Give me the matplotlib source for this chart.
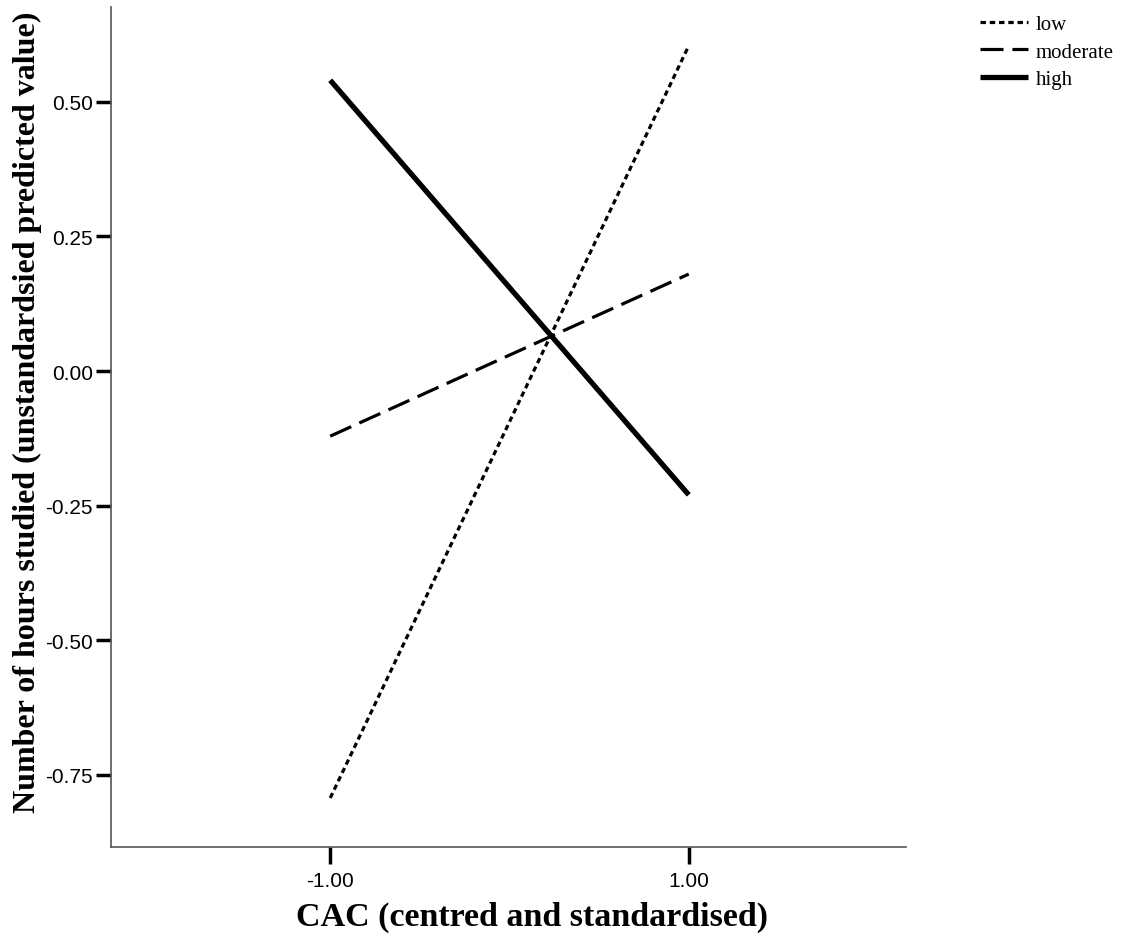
import matplotlib
matplotlib.use("Agg")
import matplotlib.pyplot as plt
from matplotlib.lines import Line2D

x_vals = [-1.0, 1.0]
low = [-0.793, 0.604]
moderate = [-0.121, 0.180]
high = [0.540, -0.230]
series_names = ["low", "moderate", "high"]
x_ticks = [-1.0, 1.0]
x_ticklabels = ["-1.00", "1.00"]
y_ticks = [-0.75, -0.50, -0.25, 0.00, 0.25, 0.50]
y_ticklabels = ["-0.75", "-0.50", "-0.25", "0.00", "0.25", "0.50"]

low_style = (0, (1.7, 1.2))
mod_style = (0, (7.2, 2.8))

fig = plt.figure(figsize=(11.24, 9.37), dpi=100)
ax = fig.add_axes([111/1124, 89/937, 795/1124, 840/937])

ax.plot(x_vals, low, color="black", lw=2.3, linestyle=low_style, label=series_names[0])
ax.plot(x_vals, moderate, color="black", lw=2.3, linestyle=mod_style, label=series_names[1])
ax.plot(x_vals, high, color="black", lw=3.8, linestyle="-", label=series_names[2], solid_capstyle="butt")

ax.set_xlim(-2.223, 2.212)
ax.set_ylim(-0.884, 0.676)
ax.set_xticks(x_ticks)
ax.set_xticklabels(x_ticklabels, fontfamily="Liberation Sans", fontsize=15)
ax.set_yticks(y_ticks)
ax.set_yticklabels(y_ticklabels, fontfamily="Liberation Sans", fontsize=15)
ax.tick_params(axis="x", length=12, width=2.5, color="black", pad=5)
ax.tick_params(axis="y", length=11, width=2.5, color="black", pad=2)

for s in ["top", "right"]:
    ax.spines[s].set_visible(False)
for s in ["left", "bottom"]:
    ax.spines[s].set_color("#555555")
    ax.spines[s].set_linewidth(1.2)

ax.set_xlabel("CAC (centred and standardised)", fontfamily="Liberation Serif",
              fontweight="bold", fontsize=24.5, labelpad=8)
ax.set_ylabel("Number of hours studied (unstandardsied predicted value)",
              fontfamily="Liberation Serif", fontweight="bold", fontsize=23, labelpad=2)
ax.xaxis.label.set_x(0.53)
ax.yaxis.label.set_y(0.519)

handles = [
    Line2D([], [], color="black", lw=2.3, linestyle=low_style),
    Line2D([], [], color="black", lw=2.3, linestyle=mod_style),
    Line2D([], [], color="black", lw=3.8, linestyle="-", solid_capstyle="butt"),
]
leg = fig.legend(handles, series_names, loc="upper left", bbox_to_anchor=(972/1124, 1 - 7/937),
                 frameon=False, prop={"family": "Liberation Serif", "size": 15},
                 handlelength=2.3, handletextpad=0.35, labelspacing=0.39, borderaxespad=0)

fig.savefig("out.png", dpi=100)
